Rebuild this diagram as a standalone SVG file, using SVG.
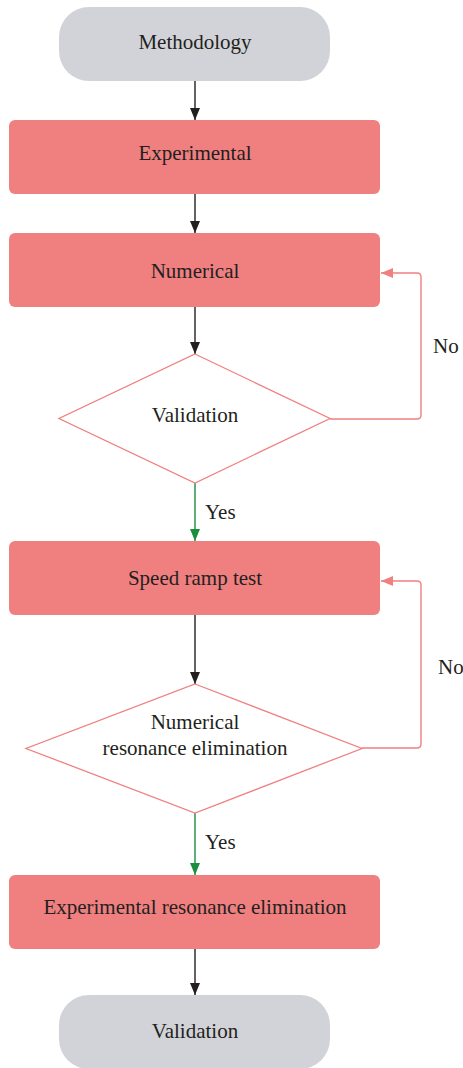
<svg xmlns="http://www.w3.org/2000/svg" width="463" height="1068" viewBox="0 0 463 1068">
<style>
.term{fill:#d2d3d8}
.proc{fill:#f08080}
.dec{fill:#fff;stroke:#f08080;stroke-width:1.3}
text{font-family:'Liberation Serif','Times New Roman',serif;font-size:21px;fill:#231f20}
.lbl{text-anchor:middle}
.blk{stroke:#231f20;stroke-width:1.4;fill:none}
.grn{stroke:#1b8e3e;stroke-width:1.4;fill:none}
.pnk{stroke:#f08080;stroke-width:1.4;fill:none}
</style>
<defs>
<marker id="ab" viewBox="0 0 12 10" refX="12" refY="5" markerWidth="12" markerHeight="10" markerUnits="userSpaceOnUse" orient="auto"><path d="M0,0 L12,5 L0,10 Z" fill="#231f20"/></marker>
<marker id="ag" viewBox="0 0 12 10" refX="12" refY="5" markerWidth="12" markerHeight="10" markerUnits="userSpaceOnUse" orient="auto"><path d="M0,0 L12,5 L0,10 Z" fill="#1b8e3e"/></marker>
<marker id="ap" viewBox="0 0 12 10" refX="12" refY="5" markerWidth="12" markerHeight="10" markerUnits="userSpaceOnUse" orient="auto"><path d="M0,0 L12,5 L0,10 Z" fill="#f08080"/></marker>
</defs>
<g id="connectors">
<line class="blk" x1="195" y1="81" x2="195" y2="120" marker-end="url(#ab)"/>
<line class="blk" x1="195" y1="194" x2="195" y2="233" marker-end="url(#ab)"/>
<line class="blk" x1="195" y1="307" x2="195" y2="354" marker-end="url(#ab)"/>
<line class="grn" x1="195" y1="483" x2="195" y2="541" marker-end="url(#ag)"/>
<line class="blk" x1="195" y1="615" x2="195" y2="684" marker-end="url(#ab)"/>
<line class="grn" x1="195" y1="813" x2="195" y2="875" marker-end="url(#ag)"/>
<line class="blk" x1="195" y1="949" x2="195" y2="995" marker-end="url(#ab)"/>
<path class="pnk" d="M330,419 H417 Q421,419 421,415 V277 Q421,273 417,273 H381" marker-end="url(#ap)"/>
<path class="pnk" d="M362,748 H417 Q421,748 421,744 V585 Q421,581 417,581 H381" marker-end="url(#ap)"/>
<text font-family="Liberation Serif, serif" x="433" y="353">No</text>
<text font-family="Liberation Serif, serif" x="438" y="674">No</text>
<text font-family="Liberation Serif, serif" x="205" y="519">Yes</text>
<text font-family="Liberation Serif, serif" x="205" y="849">Yes</text>
</g>
<g id="methodology"><rect class="term" x="59" y="7" width="271" height="74" rx="30"/><text class="lbl" x="195" y="48.5">Methodology</text></g>
<g id="experimental"><rect class="proc" x="9" y="120" width="371" height="74" rx="6"/><text class="lbl" x="195" y="160">Experimental</text></g>
<g id="numerical"><rect class="proc" x="9" y="233" width="371" height="74" rx="6"/><text class="lbl" x="195" y="278">Numerical</text></g>
<g id="validation-decision"><polygon class="dec" points="195,354 330,418.5 195,483 59,418.5"/><text class="lbl" x="195" y="422">Validation</text></g>
<g id="speed-ramp"><rect class="proc" x="9" y="541" width="371" height="74" rx="6"/><text class="lbl" x="195" y="585">Speed ramp test</text></g>
<g id="resonance-decision"><polygon class="dec" points="195,684 362,748.5 195,813 26,748.5"/><text class="lbl" x="195" y="729">Numerical</text><text class="lbl" x="195" y="755">resonance elimination</text></g>
<g id="exp-resonance"><rect class="proc" x="9" y="875" width="371" height="74" rx="6"/><text class="lbl" x="195" y="914">Experimental resonance elimination</text></g>
<g id="validation-end"><rect class="term" x="59" y="995" width="271" height="74" rx="30"/><text class="lbl" x="195" y="1038">Validation</text></g>
</svg>
